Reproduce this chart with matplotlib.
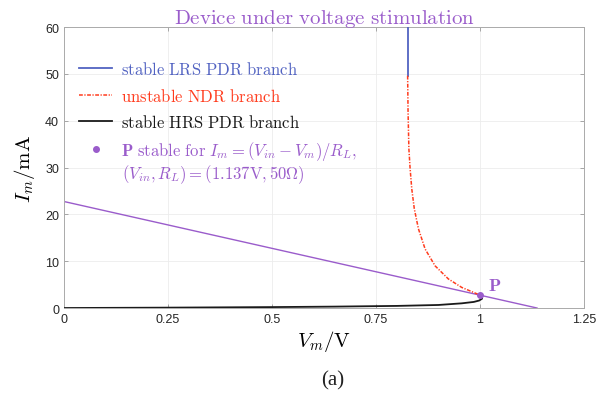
import matplotlib
matplotlib.use("Agg")
import matplotlib.pyplot as plt

plt.rcParams['mathtext.fontset'] = 'cm'

# load line parameters
v_in = 1.137   # V
r_load = 50.0  # Ohm

# stable LRS branch (vertical part)
lrs_v = [0.826, 0.826]
lrs_i = [60.0, 49.6]

# unstable NDR branch
ndr_v = [0.826, 0.827, 0.829, 0.832, 0.836, 0.842, 0.852, 0.868, 0.892, 0.924, 0.956, 0.988, 1.0]
ndr_i = [49.6, 42.0, 34.0, 29.7, 25.4, 21.2, 16.9, 12.6, 9.0, 6.2, 4.4, 3.2, 2.74]

# stable HRS branch
hrs_v = [0.0, 0.25, 0.5, 0.65, 0.8, 0.9, 0.956, 0.985, 0.998, 1.005, 1.004, 1.0]
hrs_i = [0.0, 0.08, 0.2, 0.3, 0.45, 0.65, 1.0, 1.3, 1.6, 2.0, 2.4, 2.74]

p_v = 1.0
p_i = (v_in - p_v) / r_load * 1000

x_ticks = [0, 0.25, 0.5, 0.75, 1, 1.25]
x_labels = ['0', '0.25', '0.5', '0.75', '1', '1.25']
y_ticks = [0, 10, 20, 30, 40, 50, 60]

blue = '#5263c2'
red = '#ff3c1e'
purple = '#9a5ccb'
black = '#1a1a1a'

fig = plt.figure(figsize=(5.96, 4.02), dpi=100)
ax = fig.add_axes([0.1074, 0.2313, 0.8725, 0.699])

load_v = [0.0, v_in]
load_i = [(v_in - v) / r_load * 1000 for v in load_v]
ax.plot(load_v, load_i, color=purple, lw=1.0, zorder=2)

ax.plot(lrs_v, lrs_i, color=blue, lw=1.3, label=r'$\mathrm{stable\ LRS\ PDR\ branch}$', zorder=3)
ax.plot(ndr_v, ndr_i, color=red, lw=1.1, dashes=(2.5, 1.0, 0.8, 1.0),
        label=r'$\mathrm{unstable\ NDR\ branch}$', zorder=3)
ax.plot(hrs_v, hrs_i, color=black, lw=1.3, label=r'$\mathrm{stable\ HRS\ PDR\ branch}$', zorder=3)
ax.plot([p_v], [p_i], 'o', color=purple, ms=4, ls='none', zorder=4,
        label=r'$\mathbf{P}\ \mathrm{stable\ for}\ I_m=(V_{in}-V_m)/R_L,$')

ax.text(1.02, 3.9, r'$\mathbf{P}$', color=purple, fontsize=13)

ax.set_xlim(0, 1.25)
ax.set_ylim(0, 60)
ax.set_xticks(x_ticks)
ax.set_xticklabels(x_labels)
ax.set_yticks(y_ticks)
ax.tick_params(direction='in', top=True, right=True, length=3, width=0.6,
               color='#999999', labelsize=9, labelcolor='#262626')
for lab in ax.get_xticklabels() + ax.get_yticklabels():
    lab.set_family('Liberation Sans')
ax.grid(True, color='#ececec', lw=0.6)
ax.set_axisbelow(True)
for sp in ax.spines.values():
    sp.set_color('#aaaaaa')
    sp.set_linewidth(0.7)

ax.set_xlabel(r'$V_m/\mathrm{V}$', fontsize=15, labelpad=2)
ax.set_ylabel(r'$I_m/\mathrm{mA}$', fontsize=15, labelpad=6)
ax.set_title(r'$\mathrm{Device\ under\ voltage\ stimulation}$', color=purple, fontsize=15, pad=3)

leg = ax.legend(loc='upper left', bbox_to_anchor=(0.0, 0.935), frameon=False,
                fontsize=12, handlelength=2.0, labelspacing=0.5, handletextpad=0.5)
for txt, col in zip(leg.get_texts(), [blue, red, black, purple]):
    txt.set_color(col)

# second line of the operating point entry
ax.text(0.112, 0.478, r'$(V_{in},R_L)=(1.137\mathrm{V},50\Omega)$', transform=ax.transAxes,
        color=purple, fontsize=12, va='center', ha='left')

fig.text(0.558, 0.04, '(a)', fontsize=15, family='Liberation Serif', ha='center', color='#222222')

fig.savefig('out.png', dpi=100)
